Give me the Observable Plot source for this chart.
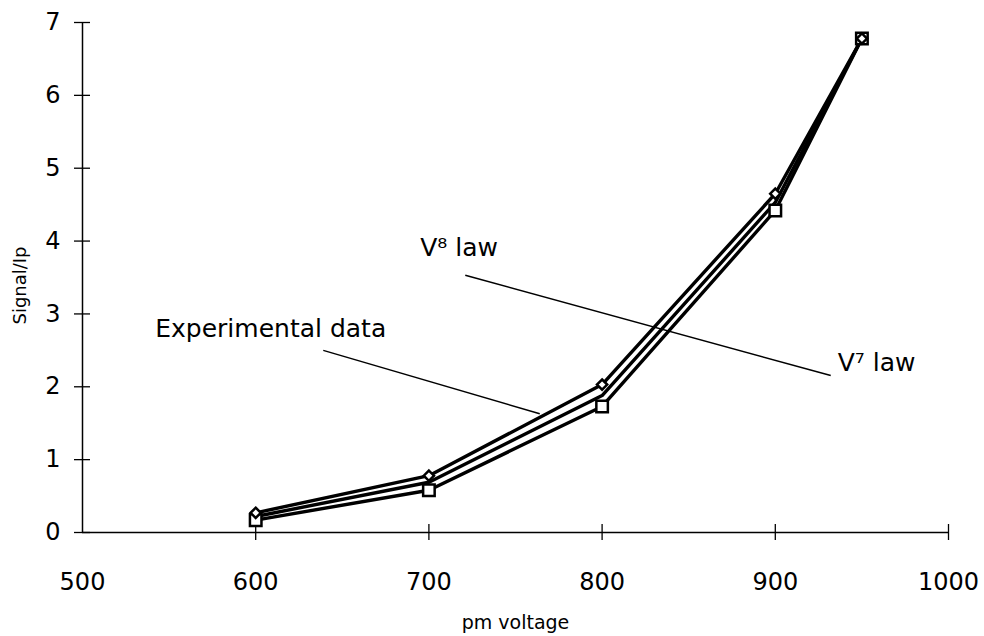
<!DOCTYPE html>
<html>
<head>
<meta charset="utf-8">
<script src="https://cdn.jsdelivr.net/npm/d3@7"></script>
<script src="https://cdn.jsdelivr.net/npm/@observablehq/plot@0.6"></script>
<style>
  html, body { margin: 0; padding: 0; background: #fff; }
  #chart svg { display: block; }
</style>
</head>
<body>
<div id="chart"></div>
<script>
const voltage = [600, 700, 800, 900, 950];
const v7Law = [0.27, 0.78, 2.03, 4.65, 6.78];
const experimental = [0.22, 0.69, 1.88, 4.53, 6.78];
const v8Law = [0.17, 0.58, 1.73, 4.42, 6.78];
const xTicks = [500, 600, 700, 800, 900, 1000];
const yTicks = [0, 1, 2, 3, 4, 5, 6, 7];
const xLabel = "pm voltage";
const yLabel = "Signal/Ip";

const leaders = [
  {x1: 639, y1: 2.50, x2: 764, y2: 1.63},
  {x1: 721, y1: 3.53, x2: 932, y2: 2.155}
];
const labels = [
  {x: 542, y: 2.80, text: "Experimental data"},
  {x: 695, y: 3.90, text: "V\u2078 law"},
  {x: 936, y: 2.33, text: "V\u2077 law"}
];

const mk = (ys) => voltage.map((v, i) => ({x: v, y: ys[i]}));
const d7 = mk(v7Law), dE = mk(experimental), d8 = mk(v8Law);

const font = "'DejaVu Sans', sans-serif";

const chart = Plot.plot({
  width: 984,
  height: 636,
  marginLeft: 82,
  marginRight: 36,
  marginTop: 22,
  marginBottom: 104,
  style: {fontFamily: font, fontSize: "24px", color: "#000", background: "#fff"},
  x: {domain: [500, 1000]},
  y: {domain: [0, 7]},
  marks: [
    Plot.ruleX([500], {y1: 0, y2: 7, stroke: "#000", strokeWidth: 1.5}),
    Plot.ruleY([0], {x1: 500, x2: 1000, stroke: "#000", strokeWidth: 1.5}),
    Plot.axisY({ticks: yTicks, tickSize: 8, tickPadding: 14, tickFormat: d3.format("d"),
      label: null, strokeWidth: 1.3, fontSize: 24}),
    Plot.axisY({ticks: yTicks, tickSize: -8, text: null, label: null, strokeWidth: 1.3}),
    Plot.axisX({ticks: xTicks.slice(1), tickSize: 8, text: null, label: null, strokeWidth: 1.3}),
    Plot.axisX({ticks: xTicks.slice(1), tickSize: -8, text: null, label: null, strokeWidth: 1.3}),
    Plot.axisX({ticks: xTicks, tickSize: 0, tickPadding: 40, tickFormat: d3.format("d"),
      label: null, fontSize: 24}),
    Plot.text([yLabel], {frameAnchor: "left", textAnchor: "middle", lineAnchor: "middle",
      rotate: -90, dx: -62, dy: 8, fontSize: 18, fill: "#000"}),
    Plot.text([xLabel], {frameAnchor: "bottom", textAnchor: "middle", lineAnchor: "middle",
      dy: 90, fontSize: 19, fill: "#000"}),
    Plot.link(leaders, {x1: "x1", y1: "y1", x2: "x2", y2: "y2", stroke: "#000", strokeWidth: 1.5}),
    Plot.line(d7, {x: "x", y: "y", stroke: "#000", strokeWidth: 3.4}),
    Plot.line(dE, {x: "x", y: "y", stroke: "#000", strokeWidth: 3.4}),
    Plot.line(d8, {x: "x", y: "y", stroke: "#000", strokeWidth: 3.4}),
    Plot.dot(d8, {x: "x", y: "y", symbol: "square", r: 6.5, fill: "#fff", stroke: "#000", strokeWidth: 2.5}),
    Plot.dot(d7, {x: "x", y: "y", symbol: "diamond2", r: 4.6, fill: "#fff", stroke: "#000", strokeWidth: 2.5}),
    Plot.text(labels, {x: "x", y: "y", text: "text", textAnchor: "start", fontSize: 25, fill: "#000"})
  ]
});
document.getElementById("chart").appendChild(chart);
</script>
</body>
</html>
